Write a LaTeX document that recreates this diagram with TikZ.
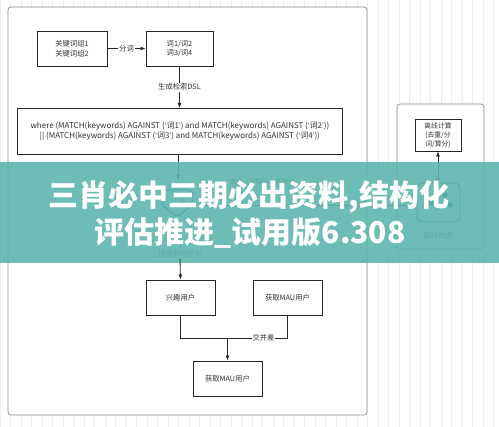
\documentclass[tikz,border=0pt]{standalone}
\usepackage{fontspec}
\newfontfamily\cjk{Noto Sans CJK SC}
\newfontfamily\lat{Liberation Sans}
\newcommand{\myLq}{{\lat ‘}}
\newcommand{\myRq}{{\lat ’}}
\usetikzlibrary{arrows.meta,calc}
\definecolor{banner}{HTML}{5EB5AD}
\definecolor{gridc}{HTML}{EEEEEE}
\definecolor{frame}{HTML}{8A8A8A}
\begin{document}
\begin{tikzpicture}[x=1pt,y=-1pt,
  box/.style={draw=black!85,line width=0.9pt,fill=white,inner sep=1pt,font=\cjk\fontsize{7.3}{9.5}\selectfont,align=center,text=black!80},
  lbl/.style={fill=white,inner sep=1pt,font=\cjk\fontsize{7.3}{8}\selectfont,text=black!80},
  conn/.style={draw=black!85,line width=0.8pt},
  arr/.style={conn,-{Latex[length=5pt,width=4pt]}},
  cont/.style={draw=frame,line width=0.7pt,rounded corners=3pt,fill=white}]
\useasboundingbox (0,0) rectangle (499,427);
\fill[white] (0,0) rectangle (499,427);
\draw[gridc,line width=0.35pt] (0,0) grid[step=10.5] (499,427);
% containers
\draw[cont] (8,7) rectangle (367,415);
\draw[cont] (397,104) rectangle (484,249);
% nodes
\node[box,minimum width=70pt,minimum height=35pt] (k1) at (72,48.5) {关键词组1\\关键词组2};
\node[box,minimum width=67pt,minimum height=35pt] (k2) at (179.5,48.5) {词1/词2\\词3/词4};
\node[box,minimum width=325pt,minimum height=46pt,anchor=north west,font=\cjk\fontsize{8}{10.5}\selectfont] (dsl) at (17,108) {where (MATCH(keywords) AGAINST (\myLq 词1\myRq) and MATCH(keywords) AGAINST (\myLq 词2\myRq))\\|| (MATCH(keywords) AGAINST (\myLq 词3\myRq) and MATCH(keywords) AGAINST (\myLq 词4\myRq))};
\node[box,minimum width=69pt,minimum height=35pt] (int) at (180.5,297.5) {兴趣用户};
\node[box,minimum width=69pt,minimum height=35pt] (mau) at (287.5,297.5) {获取MAU用户};
\node[box,minimum width=69pt,minimum height=35pt] (res) at (227.5,378.5) {获取MAU用户};
\node[box,minimum width=46pt,minimum height=32pt,font=\cjk\fontsize{6.8}{8.8}\selectfont] (calc) at (438,135) {离线计算\\(去重/分\\词/算分)};
% connectors
\draw[arr] (k1) -- node[lbl]{分词} (k2);
\draw[arr] (k2.south) -- node[lbl,pos=0.5]{生成检索DSL} (k2.south |- dsl.north);
% hidden middle part (under banner)
\coordinate (hid) at (178,180);
\draw[arr] (dsl.south -| hid) -- (hid);
\draw[teal!60!black,line width=1pt,rounded corners=3pt] (162,190) -- (162,205) -- (177,217) -- (192,205) -- (192,190) -- cycle;
\draw[teal!60!black,line width=1pt] (170,202) -- (176,207) -- (185,198);
\node[font=\cjk\fontsize{6.5}{8}\selectfont,text=black!70,align=left] (goods) at (262,186) {商品\quad 关键词\quad 关键词\\(\ \ )\ \ (\ \ )\ \ (\ \ )};
\node[lbl,fill=none] (swap) at (368,205) {数据交换};
\draw[rounded corners=5pt,teal!60!black,line width=0.9pt] (417,183) rectangle (460,222);
\fill[teal!60!black] (431,202) circle (4pt) (445,195) circle (2.5pt) (450,205) circle (2.5pt) (438,208) circle (2pt);
\coordinate (dataTop) at (438,183);
\node[lbl,fill=none,text=black!60] (dlab) at (438,236) {离线数据};
\draw[conn,{Latex[length=5pt,width=4pt]}-{Latex[length=5pt,width=4pt]}] (calc.south) -- (dataTop);
\draw[conn] (200,205) -- (swap.west);
\draw[conn] (swap.east) -- (417,205);
\coordinate (hb) at (180,225);
\node[lbl,fill=none,text=black!70] (top) at (180,254) {排序取TOP N};
\draw[conn] (hb) -- (top.north);
% banner
\fill[banner,opacity=0.9] (0,162) rectangle (499,263);
\node[font=\cjk\bfseries\fontsize{30}{33}\selectfont,text=white,inner sep=0pt] (t1) at (249,197) {三肖必中三期必出资料,结构化};
\node[font=\cjk\bfseries\fontsize{30}{33}\selectfont,text=white,inner sep=0pt] (t2) at (250,233) {评估推进\_试用版6.308};
% lower part
\draw[arr] (top.south) -- (int.north);
\coordinate (j) at (227.5,338);
\draw[conn] (int.south) |- (j);
\draw[conn] (j) -| node[lbl,pos=0.3]{交并差} (mau.south);
\draw[arr] (j) -- (res.north);
\end{tikzpicture}
\end{document}
